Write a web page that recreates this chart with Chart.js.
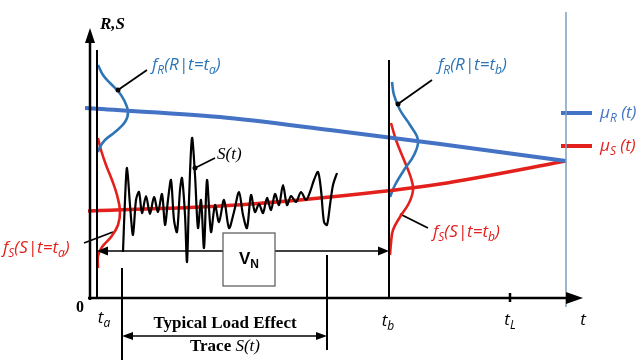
<!DOCTYPE html>
<html lang="en">
<head>
  <meta charset="UTF-8" />
  <title>Load effect and resistance over time</title>
  <style>
    body { margin: 0; background: #fff; }
    .wrap { width: 643px; height: 362px; position: relative; }
  </style>
</head>
<body>
  <div class="wrap"><canvas id="chart"></canvas></div>

  <script src="https://cdn.jsdelivr.net/npm/chart.js"></script>
  <script>
// units: t along the time axis, v = resistance / load effect (origin at the axes corner)
const muR = [{x:-5,y:190},{x:130,y:181},{x:240,y:168},{x:350,y:154},{x:476,y:137}];
const muS = [{x:-2,y:87},{x:130,y:92},{x:240,y:101},{x:350,y:114},{x:476,y:137}];

const fRa = [{x:8,y:233},{x:13,y:223},{x:20,y:215},{x:28,y:207},{x:34,y:198},{x:38,y:186},
             {x:35,y:176},{x:25,y:166},{x:15,y:158},{x:10,y:151},{x:8,y:146}];
const fSa = [{x:8,y:160},{x:11,y:148},{x:16,y:133},{x:22,y:118},{x:27,y:103},{x:30,y:87},
             {x:28,y:73},{x:21,y:61},{x:12,y:51},{x:8,y:42},{x:8,y:30}];
const fRb = [{x:302,y:216},{x:304,y:203},{x:310,y:188},{x:320,y:173},{x:328,y:158},
             {x:324,y:143},{x:314,y:128},{x:305,y:113},{x:300,y:101}];
const fSb = [{x:301,y:175},{x:306,y:158},{x:314,y:138},{x:321,y:120},{x:323,y:108},
             {x:319,y:95},{x:310,y:81},{x:303,y:68},{x:301,y:55},{x:300,y:43}];

const loadTrace = [
  {x:33,y:46},{x:35,y:98},{x:37,y:130},{x:40,y:93},{x:43,y:63},{x:46,y:98},{x:49,y:106},
  {x:52,y:85},{x:56,y:102},{x:60,y:84},{x:64,y:101},{x:68,y:86},{x:72,y:104},{x:75,y:73},
  {x:78,y:98},{x:81,y:118},{x:84,y:78},{x:87,y:66},{x:90,y:108},{x:92,y:120},{x:95,y:83},
  {x:97,y:36},{x:99,y:98},{x:102,y:160},{x:105,y:123},{x:108,y:70},{x:111,y:98},{x:114,y:50},
  {x:117,y:118},{x:121,y:66},{x:125,y:93},{x:129,y:76},{x:134,y:98},{x:139,y:70},{x:144,y:86},
  {x:149,y:106},{x:153,y:83},{x:157,y:70},{x:161,y:103},{x:165,y:86},{x:169,y:94},{x:173,y:85},
  {x:177,y:100},{x:181,y:88},{x:185,y:104},{x:189,y:93},{x:193,y:113},{x:197,y:93},{x:201,y:102},
  {x:206,y:96},{x:211,y:106},{x:216,y:98},{x:220,y:106},{x:224,y:118},{x:228,y:126},{x:231,y:108},
  {x:234,y:76},{x:237,y:73},{x:240,y:93},{x:243,y:113},{x:247,y:125}
];

// time axis marks
const tickLabels = ['0', 't_a', 't_b', 't_L', 't'];
const tickPos = [-10, 14, 298, 420, 493];
const tA = 7, tB = 299, tL = 420, tEnd = 476;
const traceStart = 32, traceEnd = 237;

const BLUE = '#2e75b6', RED = '#e3201b', LBLUE = '#4472c4';

function seg(x1, y1, x2, y2) { return [{x:x1,y:y1},{x:x2,y:y2}]; }
function line(data, color, width, tension) {
  return { data, borderColor: color, borderWidth: width, showLine: true, pointRadius: 0,
           tension: tension || 0, fill: false };
}

const datasets = [
  line(seg(0, -2, 0, 262), '#000', 2.5),
  line(seg(-2, 0, 482, 0), '#000', 2.5),
  line(seg(tA, 0, tA, 248), '#000', 2),
  line(seg(tB, 0, tB, 238), '#000', 2),
  line(seg(tL, -4, tL, 5), '#000', 2.5),
  line(seg(tEnd, 286, tEnd, -9), '#7f9dbf', 1.5),
  line(seg(tA + 8, 47, tB - 8, 47), '#000', 1.5),
  line(seg(traceStart, 30, traceStart, -62), '#000', 2),
  line(seg(traceEnd, 43, traceEnd, -52), '#000', 2),
  line(seg(traceStart + 8, -38, traceEnd - 8, -38), '#000', 1.5),
  line(loadTrace, '#000', 2.2, 0.3),
  line(muR, LBLUE, 4, 0.3),
  line(muS, RED, 3.5, 0.3),
  line(fRa, BLUE, 2.6, 0.4),
  line(fSa, RED, 2.6, 0.4),
  line(fRb, BLUE, 2.6, 0.4),
  line(fSb, RED, 2.6, 0.4),
  line(seg(471, 185, 502, 185), LBLUE, 4),
  line(seg(471, 152, 502, 152), RED, 4),
  // pointer lines
  line(seg(28, 208, 57, 228), '#000', 1.8),
  line(seg(308, 194, 342, 218), '#000', 1.8),
  line(seg(-6, 55, 23, 66), '#000', 1.8),
  line(seg(310, 84, 338, 70), '#000', 1.8),
  line(seg(105, 130, 125, 140), '#000', 1.8)
];

const texts = [
  { s: 'f_R(R|t=t_a)', x: 62, y: 233, color: BLUE, font: 'italic 17px "Open Sans"' },
  { s: 'f_R(R|t=t_b)', x: 348, y: 233, color: BLUE, font: 'italic 17px "Open Sans"' },
  { s: 'f_S(S|t=t_a)', x: -87, y: 50, color: RED, font: 'italic 17px "Open Sans"' },
  { s: 'f_S(S|t=t_b)', x: 343, y: 66, color: RED, font: 'italic 17px "Open Sans"' },
  { s: 'μ_R (t)', x: 510, y: 185, color: LBLUE, font: 'italic 17px "Open Sans"' },
  { s: 'μ_S (t)', x: 510, y: 152, color: RED, font: 'italic 17px "Open Sans"' },
  { s: 'R,S', x: 10, y: 273, color: '#000', font: 'italic bold 17px "Liberation Serif"' },
  { s: 'S(t)', x: 127, y: 143, color: '#000', font: 'italic 17px "Liberation Serif"' }
];

function drawRich(ctx, s, x, y, font, color, align) {
  const size = parseFloat(font.match(/(\d+)px/)[1]);
  const subFont = font.replace(/\d+px/, Math.round(size * 0.68) + 'px');
  const parts = [];
  for (let i = 0; i < s.length; i++) {
    if (s[i] === '_') { parts.push({ t: s[i + 1], sub: true }); i++; }
    else parts.push({ t: s[i], sub: false });
  }
  let w = 0;
  parts.forEach(p => { ctx.font = p.sub ? subFont : font; p.w = ctx.measureText(p.t).width; w += p.w; });
  let cx = align === 'center' ? x - w / 2 : x;
  ctx.fillStyle = color;
  ctx.textBaseline = 'middle';
  ctx.textAlign = 'left';
  parts.forEach(p => {
    ctx.font = p.sub ? subFont : font;
    ctx.fillText(p.t, cx, p.sub ? y + size * 0.3 : y);
    cx += p.w;
  });
}

function arrowHead(ctx, xs, ys, tx, ty, dir, len, half) {
  const px = xs.getPixelForValue(tx), py = ys.getPixelForValue(ty);
  ctx.beginPath();
  ctx.moveTo(px, py);
  if (dir === 'up') { ctx.lineTo(px - half, py + len); ctx.lineTo(px + half, py + len); }
  if (dir === 'right') { ctx.lineTo(px - len, py - half); ctx.lineTo(px - len, py + half); }
  if (dir === 'left') { ctx.lineTo(px + len, py - half); ctx.lineTo(px + len, py + half); }
  ctx.closePath();
  ctx.fillStyle = '#000';
  ctx.fill();
}

const decor = {
  id: 'decor',
  afterDatasetsDraw(chart) {
    const ctx = chart.ctx, xs = chart.scales.x, ys = chart.scales.y;
    ctx.save();
    arrowHead(ctx, xs, ys, 0, 270, 'up', 15, 5);
    arrowHead(ctx, xs, ys, 493, 0, 'right', 17, 6);
    arrowHead(ctx, xs, ys, tA, 47, 'left', 11, 4.5);
    arrowHead(ctx, xs, ys, tB, 47, 'right', 11, 4.5);
    arrowHead(ctx, xs, ys, traceStart, -38, 'left', 11, 4);
    arrowHead(ctx, xs, ys, traceEnd, -38, 'right', 11, 4);

    // pointer dots
    [[28, 208], [105, 130], [308, 194]].forEach(([a, b]) => {
      ctx.beginPath();
      ctx.arc(xs.getPixelForValue(a), ys.getPixelForValue(b), 2.5, 0, Math.PI * 2);
      ctx.fillStyle = '#000';
      ctx.fill();
    });

    // V_N box
    const bx1 = xs.getPixelForValue(133), bx2 = xs.getPixelForValue(185);
    const by1 = ys.getPixelForValue(65), by2 = ys.getPixelForValue(12);
    ctx.fillStyle = '#fff';
    ctx.fillRect(bx1, by1, bx2 - bx1, by2 - by1);
    ctx.strokeStyle = '#555';
    ctx.lineWidth = 1.2;
    ctx.strokeRect(bx1, by1, bx2 - bx1, by2 - by1);
    drawRich(ctx, 'V_N', (bx1 + bx2) / 2, (by1 + by2) / 2, 'bold 17px "Liberation Sans"', '#000', 'center');

    texts.forEach(t => drawRich(ctx, t.s, xs.getPixelForValue(t.x), ys.getPixelForValue(t.y), t.font, t.color, 'left'));

    const tickY = [-10, -20, -23, -22, -22];
    tickLabels.forEach((lab, i) => {
      const f = lab === '0' ? 'bold 16px "Liberation Serif"' : 'italic 17px "Open Sans"';
      drawRich(ctx, lab, xs.getPixelForValue(tickPos[i]), ys.getPixelForValue(tickY[i]), f, '#000', 'center');
    });

    // trace caption
    const cx = xs.getPixelForValue(135);
    ctx.fillStyle = '#000';
    ctx.textAlign = 'center';
    ctx.textBaseline = 'middle';
    ctx.font = 'bold 17px "Liberation Serif"';
    ctx.fillText('Typical Load Effect', cx, ys.getPixelForValue(-26));
    ctx.font = 'bold 17px "Liberation Serif"';
    const w1 = ctx.measureText('Trace ').width;
    ctx.font = 'italic 17px "Liberation Serif"';
    const w2 = ctx.measureText('S(t)').width;
    const sx = cx - (w1 + w2) / 2, sy = ys.getPixelForValue(-49);
    ctx.textAlign = 'left';
    ctx.font = 'bold 17px "Liberation Serif"';
    ctx.fillText('Trace ', sx, sy);
    ctx.font = 'italic 17px "Liberation Serif"';
    ctx.fillText('S(t)', sx + w1, sy);
    ctx.restore();
  }
};

new Chart(document.getElementById('chart'), {
  type: 'scatter',
  data: { datasets },
  options: {
    responsive: true,
    maintainAspectRatio: false,
    animation: false,
    layout: { padding: 0 },
    plugins: { legend: { display: false }, tooltip: { enabled: false } },
    scales: {
      x: { type: 'linear', min: -90, max: 553, display: false },
      y: { type: 'linear', min: -64, max: 298, display: false }
    }
  },
  plugins: [decor]
});
  </script>
</body>
</html>
